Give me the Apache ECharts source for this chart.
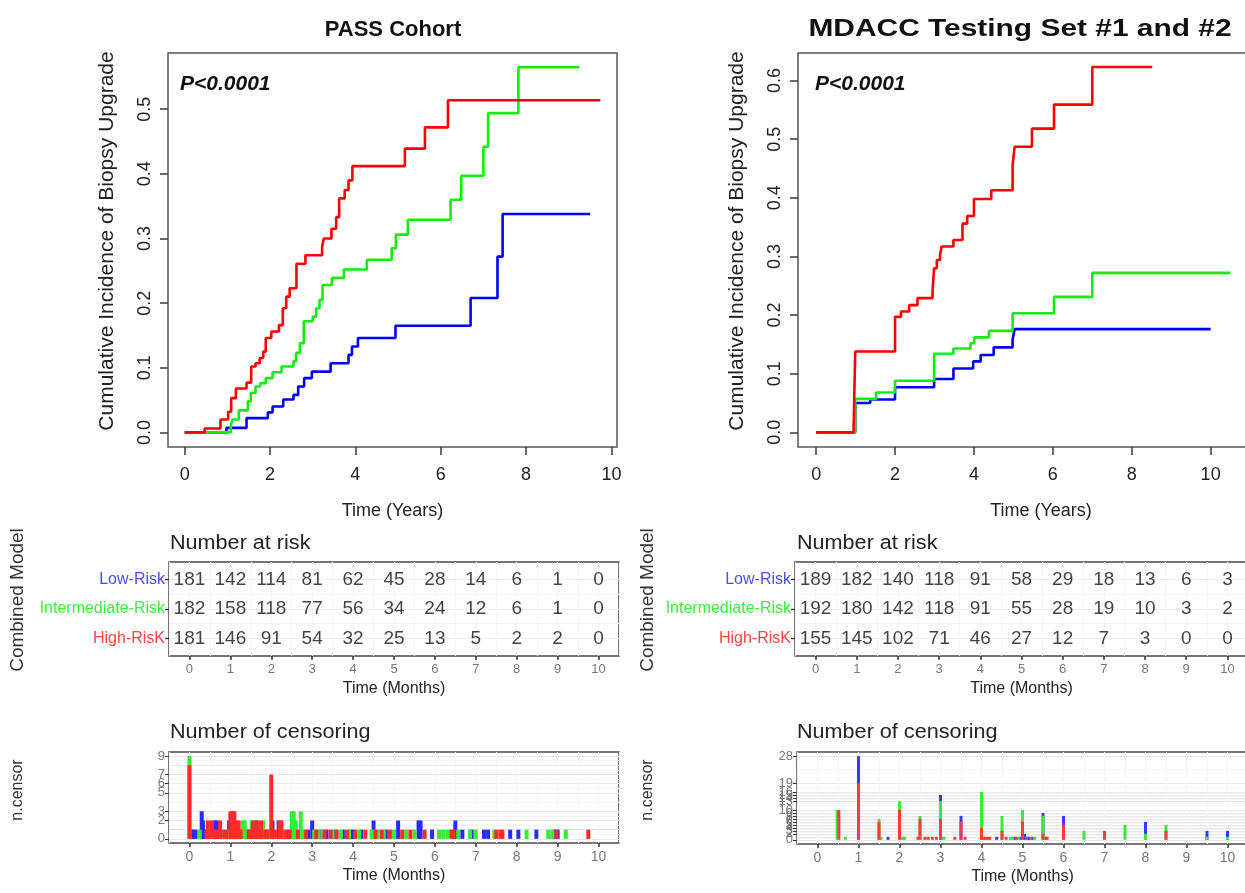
<!DOCTYPE html>
<html>
<head>
<meta charset="utf-8">
<title>Cumulative incidence of biopsy upgrade</title>
<script src="https://cdn.jsdelivr.net/npm/echarts@6/dist/echarts.min.js"></script>
<style>
  html, body { margin: 0; padding: 0; background: #fff; }
  #chart { width: 1245px; height: 893px; }
</style>
</head>
<body>
<div id="chart"></div>
<script>
// ---------- data ----------
const riskRows = ['High-RisK', 'Intermediate-Risk', 'Low-Risk'];   // bottom -> top in the table
const months = [0, 1, 2, 3, 4, 5, 6, 7, 8, 9, 10];
const yearTicks = [0, 2, 4, 6, 8, 10];

// PASS cohort: cumulative incidence steps (time, value)
const passLowT  = [0, 0.98, 1.45, 1.95, 2.06, 2.31, 2.55, 2.66, 2.80, 2.98, 3.42, 3.84, 3.92, 4.06, 4.94, 6.70, 7.33, 7.45, 9.50];
const passLowV  = [0, 0.007, 0.022, 0.031, 0.040, 0.051, 0.058, 0.071, 0.084, 0.094, 0.107, 0.120, 0.133, 0.146, 0.165, 0.208, 0.272, 0.338, 0.338];
const passIntT  = [0, 1.08, 1.12, 1.27, 1.48, 1.55, 1.66, 1.77, 1.90, 2.06, 2.27, 2.55, 2.61, 2.70, 2.79, 3.00, 3.08, 3.16, 3.23, 3.45, 3.73, 4.27, 4.85, 4.95, 5.23, 6.23, 6.48, 7.00, 7.11, 7.82, 9.25];
const passIntV  = [0, 0.009, 0.020, 0.034, 0.048, 0.061, 0.071, 0.076, 0.084, 0.093, 0.102, 0.110, 0.123, 0.138, 0.172, 0.179, 0.192, 0.205, 0.228, 0.239, 0.252, 0.267, 0.285, 0.306, 0.329, 0.360, 0.397, 0.442, 0.494, 0.565, 0.565];
const passHighT = [0, 0.47, 0.84, 1.02, 1.09, 1.20, 1.45, 1.56, 1.66, 1.76, 1.84, 1.90, 2.03, 2.21, 2.30, 2.38, 2.46, 2.62, 2.83, 3.22, 3.26, 3.44, 3.55, 3.62, 3.75, 3.84, 3.93, 5.16, 5.63, 6.17, 9.74];
const passHighV = [0, 0.006, 0.020, 0.032, 0.053, 0.068, 0.077, 0.102, 0.107, 0.115, 0.125, 0.146, 0.156, 0.166, 0.192, 0.210, 0.223, 0.261, 0.274, 0.287, 0.300, 0.315, 0.333, 0.362, 0.375, 0.390, 0.412, 0.439, 0.472, 0.514, 0.514];

// MDACC testing sets
const mdLowT  = [0, 0.99, 1.37, 2.00, 2.99, 3.48, 3.98, 4.17, 4.50, 4.98, 5.03, 10.0];
const mdLowV  = [0, 0.050, 0.056, 0.077, 0.091, 0.109, 0.121, 0.132, 0.145, 0.158, 0.176, 0.176];
const mdIntT  = [0, 0.99, 1.52, 2.00, 2.99, 3.48, 3.91, 4.01, 4.38, 4.98, 6.03, 7.00, 10.5];
const mdIntV  = [0, 0.057, 0.068, 0.088, 0.134, 0.143, 0.152, 0.162, 0.173, 0.203, 0.231, 0.272, 0.272];
const mdHighT = [0, 0.95, 0.99, 2.00, 2.15, 2.36, 2.57, 2.95, 2.99, 3.06, 3.14, 3.18, 3.48, 3.71, 3.83, 4.00, 4.44, 4.98, 5.03, 5.47, 6.03, 7.00, 8.52];
const mdHighV = [0, 0.007, 0.138, 0.197, 0.206, 0.217, 0.229, 0.240, 0.280, 0.294, 0.302, 0.317, 0.328, 0.356, 0.369, 0.398, 0.413, 0.455, 0.487, 0.518, 0.559, 0.623, 0.623];

// number at risk
const passRiskLow  = [181, 142, 114, 81, 62, 45, 28, 14, 6, 1, 0];
const passRiskInt  = [182, 158, 118, 77, 56, 34, 24, 12, 6, 1, 0];
const passRiskHigh = [181, 146, 91, 54, 32, 25, 13, 5, 2, 2, 0];
const mdRiskLow  = [189, 182, 140, 118, 91, 58, 29, 18, 13, 6, 3];
const mdRiskInt  = [192, 180, 142, 118, 91, 55, 28, 19, 10, 3, 2];
const mdRiskHigh = [155, 145, 102, 71, 46, 27, 12, 7, 3, 0, 0];

// number of censoring (time, count)
const passCensHighT = [0, 0.42, 0.45, 0.5, 0.55, 0.6, 0.7, 0.75, 0.85, 0.9, 1.0, 1.05, 1.1, 1.15, 1.2, 1.25, 1.45, 1.5, 1.55, 1.6, 1.65, 1.7, 1.75, 1.85, 1.9, 2.0, 2.1, 2.2, 2.25, 2.35, 2.45, 2.65, 2.85, 3.1, 3.3, 3.45, 3.6, 3.85, 4.05, 4.3, 4.55, 4.7, 4.9, 5.2, 5.4, 5.75, 6.4, 6.45, 7.5, 7.6, 7.65, 8.97, 9.75];
const passCensHighN = [8, 1, 2, 1, 2, 1, 1, 2, 1, 1, 3, 3, 3, 2, 2, 1, 1, 1, 2, 1, 2, 1, 2, 1, 1, 7, 1, 2, 2, 1, 1, 1, 1, 1, 1, 1, 1, 1, 1, 1, 1, 1, 1, 1, 1, 1, 1, 1, 1, 1, 1, 1, 1];
const passCensIntT = [0, 0.25, 0.8, 0.95, 1.3, 1.35, 1.4, 1.52, 1.58, 1.8, 1.95, 2.3, 2.5, 2.55, 2.6, 2.68, 2.72, 2.8, 3.05, 3.15, 3.25, 3.5, 3.7, 3.9, 4.15, 4.45, 4.52, 4.6, 4.75, 5.0, 5.3, 5.5, 6.1, 6.2, 6.3, 6.57, 6.86, 7.0, 7.45, 8.24, 8.77, 8.87, 9.2];
const passCensIntN = [1, 1, 1, 1, 2, 2, 1, 2, 2, 2, 1, 1, 3, 3, 2, 1, 3, 1, 1, 1, 1, 1, 1, 1, 1, 1, 1, 1, 1, 1, 1, 1, 1, 1, 1, 1, 1, 1, 1, 1, 1, 1, 1];
const passCensLowT = [0.05, 0.1, 0.15, 0.3, 0.33, 0.38, 0.62, 0.67, 0.72, 0.97, 1.27, 1.42, 1.47, 1.62, 1.72, 1.92, 2.03, 2.18, 2.4, 2.75, 2.9, 3.0, 3.2, 3.35, 3.55, 3.75, 3.95, 4.0, 4.2, 4.5, 4.8, 5.1, 5.6, 5.65, 5.93, 6.5, 6.67, 6.9, 7.2, 7.3, 7.84, 8.04, 8.48, 8.92, 9.0];
const passCensLowN = [1, 1, 1, 3, 2, 1, 2, 2, 1, 2, 1, 1, 1, 2, 1, 1, 2, 2, 1, 1, 1, 2, 1, 1, 1, 1, 1, 1, 1, 2, 1, 2, 2, 2, 1, 2, 1, 1, 1, 1, 1, 1, 1, 1, 1];
const passCensBreaks = [0, 1, 2, 3, 5, 6, 7, 8, 9];

const mdCensHighT = [0.52, 1.0, 1.5, 2.0, 2.45, 2.5, 2.62, 2.7, 2.8, 2.9, 3.0, 3.35, 3.5, 3.6, 4.0, 4.05, 4.1, 4.15, 4.2, 4.5, 4.6, 4.85, 5.0, 5.1, 5.2, 5.5, 5.6, 6.0, 7.0, 8.5];
const mdCensHighN = [10, 19, 6, 10, 1, 7, 1, 1, 1, 1, 7, 1, 6, 1, 4, 1, 1, 1, 1, 3, 1, 1, 6, 1, 1, 2, 1, 5, 3, 3];
const mdCensIntT = [0.48, 0.68, 1.5, 1.55, 2.0, 2.07, 2.12, 2.5, 3.0, 3.05, 3.09, 4.0, 4.5, 4.7, 4.75, 4.9, 5.0, 5.3, 5.5, 6.5, 7.5, 8.0, 8.5, 9.5, 10.0];
const mdCensIntN = [10, 1, 1, 1, 3, 1, 1, 1, 6, 1, 1, 12, 5, 1, 1, 1, 4, 1, 6, 3, 5, 2, 2, 1, 1];
const mdCensLowT = [1.0, 1.72, 2.1, 3.0, 3.5, 4.37, 4.8, 4.95, 5.05, 5.12, 5.15, 5.25, 5.5, 5.58, 6.0, 8.0, 9.5, 10.0];
const mdCensLowN = [9, 1, 1, 2, 2, 1, 1, 1, 2, 1, 1, 1, 1, 1, 3, 4, 2, 2];
const mdCensBreaks = [0, 1, 2, 3, 4, 5, 6, 7, 8, 9, 10, 13, 14, 15, 16, 19, 28];

// ---------- helpers ----------
const FONT = "'Liberation Sans', Arial, Helvetica, sans-serif";
const RED = '#ff0000', GREEN = '#10ee10', BLUE = '#0000ff';
const LBL = { high: '#ff4545', int: '#3df03d', low: '#4b4bff' };

const zip = (t, v) => t.map((x, i) => [x, v[i]]);

// stacked tops: group k stacks over groups 0..k-1 at identical times
function stackTops(ts, ns, k) {
  return ts[k].map(t => {
    let top = 0;
    for (let j = 0; j <= k; j++) {
      const i = ts[j].indexOf(t);
      if (i >= 0) top += ns[j][i];
    }
    return [t, top];
  });
}

function riskPoints(rows) {
  const out = [];
  rows.forEach((vals, r) => vals.forEach((n, i) => out.push([months[i], r, n])));
  return out;
}

function midpoints(b) {
  const m = [];
  for (let i = 1; i < b.length; i++) m.push((b[i - 1] + b[i]) / 2);
  return m;
}

const frame = '#555';
const hidden = () => ({ show: false, onZero: false });

function topX(g, min, max) {
  return {
    gridIndex: g, type: 'value', min, max,
    axisLine: hidden(),
    axisTick: { show: true, customValues: yearTicks, length: 8, lineStyle: { color: '#444', width: 1.6 } },
    axisLabel: { customValues: yearTicks, fontSize: 18, color: '#222', margin: 19 },
    splitLine: { show: false },
    name: 'Time (Years)', nameLocation: 'middle', nameGap: 55,
    nameTextStyle: { fontSize: 18, color: '#222' }
  };
}
function topY(g, min, max, ticks) {
  return {
    gridIndex: g, type: 'value', min, max,
    axisLine: hidden(),
    axisTick: { show: true, customValues: ticks, length: 8, lineStyle: { color: '#444', width: 1.6 } },
    axisLabel: { customValues: ticks, rotate: 90, fontSize: 18, color: '#222', margin: 14,
                 formatter: v => v.toFixed(1) },
    splitLine: { show: false }
  };
}
function monthX(g, labelSize) {
  return {
    gridIndex: g, type: 'value', min: -0.5, max: 10.5,
    axisLine: hidden(),
    axisTick: { show: true, customValues: months, length: 4, lineStyle: { color: '#333', width: 1.5 } },
    axisLabel: { customValues: months, fontSize: labelSize, color: '#777', margin: 7 },
    splitLine: { show: true, lineStyle: { color: '#ececec', width: 1 } },
    name: 'Time (Months)', nameLocation: 'middle', nameGap: 25,
    nameTextStyle: { fontSize: 16, color: '#222' }
  };
}
function minorX(g) {
  return {
    gridIndex: g, type: 'value', min: -0.5, max: 10.5, interval: 0.5, position: 'top',
    axisLine: hidden(), axisTick: { show: false }, axisLabel: { show: false },
    splitLine: { show: true, lineStyle: { color: '#f5f5f5', width: 1 } }
  };
}
function minorY(g, min, max, vals) {
  return {
    gridIndex: g, type: 'value', min, max, position: 'right',
    axisLine: hidden(), axisTick: { show: false, customValues: vals }, axisLabel: { show: false },
    splitLine: { show: true, lineStyle: { color: '#f5f5f5', width: 1 } }
  };
}
function riskY(g) {
  return {
    gridIndex: g, type: 'value', min: -0.6, max: 2.6,
    axisLine: hidden(),
    axisTick: { show: true, customValues: [0, 1, 2], length: 4, lineStyle: { color: '#333', width: 1.3 } },
    axisLabel: {
      customValues: [0, 1, 2], margin: 4,
      formatter: v => '{r' + v + '|' + riskRows[v] + '}',
      rich: {
        r0: { color: LBL.high, fontSize: 16, fontFamily: FONT },
        r1: { color: LBL.int, fontSize: 16, fontFamily: FONT },
        r2: { color: LBL.low, fontSize: 16, fontFamily: FONT }
      }
    },
    splitLine: { show: true, lineStyle: { color: '#ececec', width: 1 } }
  };
}
function censY(g, min, max, breaks) {
  return {
    gridIndex: g, type: 'value', min, max,
    axisLine: hidden(),
    axisTick: { show: true, customValues: breaks, length: 4, lineStyle: { color: '#333', width: 1 } },
    axisLabel: { customValues: breaks, fontSize: 13, color: '#777', margin: 4,
                 showMinLabel: true, showMaxLabel: true },
    splitLine: { show: true, lineStyle: { color: '#e8e8e8', width: 1 } }
  };
}

function box(l, t, w, h, color) {
  return { left: l, top: t, width: w, height: h, show: true, borderColor: color, borderWidth: 1.5,
           outerBoundsMode: 'none' };
}

function kmLine(name, xi, t, v, color) {
  return {
    name, type: 'line', xAxisIndex: xi, yAxisIndex: xi, data: zip(t, v),
    step: 'end', showSymbol: false, symbol: 'none',
    lineStyle: { color, width: 2.6 }, itemStyle: { color }, z: 3
  };
}
function censBars(xi, yi, data, color, w) {
  return {
    type: 'bar', xAxisIndex: xi, yAxisIndex: yi, data,
    barWidth: w, barGap: '-100%', itemStyle: { color }
  };
}
function riskText(xi, rows) {
  return {
    type: 'scatter', xAxisIndex: xi, yAxisIndex: xi, data: riskPoints(rows),
    symbolSize: 1, itemStyle: { color: 'rgba(0,0,0,0)' }, z: 5,
    label: { show: true, position: 'inside', formatter: p => p.value[2], fontSize: 19, color: '#111',
             fontFamily: FONT, textBorderWidth: 0 }
  };
}

const passTs = [passCensHighT, passCensIntT, passCensLowT];
const passNs = [passCensHighN, passCensIntN, passCensLowN];
const mdTs = [mdCensHighT, mdCensIntT, mdCensLowT];
const mdNs = [mdCensHighN, mdCensIntN, mdCensLowN];

function txt(x, y, text, font, fill, rot, align, sx) {
  const a = align || 'center';
  return {
    type: 'text', x, y, rotation: rot || 0, scaleX: sx || 1,
    style: { text, font, fill: fill || '#222', textAlign: a, textVerticalAlign: 'middle', align: a, verticalAlign: 'middle' }
  };
}

const chart = echarts.init(document.getElementById('chart'));

chart.setOption({
  animation: false,
  backgroundColor: '#fff',
  textStyle: { fontFamily: FONT },
  grid: [
    box(168, 53, 449, 394, frame),
    box(798, 53, 486, 394, frame),
    box(169, 562, 450, 94, '#4a4a4a'),
    box(795, 562, 453, 94, '#4a4a4a'),
    box(169, 752, 450, 91, '#4a4a4a'),
    box(797, 752, 451, 92, '#4a4a4a')
  ],
  xAxis: [
    topX(0, -0.39, 10.13),
    topX(1, -0.46, 11.86),
    monthX(2, 13),
    monthX(3, 13),
    monthX(4, 14),
    monthX(5, 14),
    minorX(2), minorX(3), minorX(4), minorX(5)
  ],
  yAxis: [
    topY(0, -0.0226, 0.587, [0, 0.1, 0.2, 0.3, 0.4, 0.5]),
    topY(1, -0.025, 0.647, [0, 0.1, 0.2, 0.3, 0.4, 0.5, 0.6]),
    riskY(2),
    riskY(3),
    censY(4, -0.45, 9.45, passCensBreaks),
    censY(5, -1.4, 29.4, mdCensBreaks),
    minorY(2, -0.6, 2.6, [0.5, 1.5]),
    minorY(3, -0.6, 2.6, [0.5, 1.5]),
    minorY(4, -0.45, 9.45, midpoints(passCensBreaks)),
    minorY(5, -1.4, 29.4, midpoints(mdCensBreaks))
  ],
  series: [
    kmLine('Low-Risk', 0, passLowT, passLowV, BLUE),
    kmLine('Intermediate-Risk', 0, passIntT, passIntV, GREEN),
    kmLine('High-RisK', 0, passHighT, passHighV, RED),
    kmLine('Low-Risk', 1, mdLowT, mdLowV, BLUE),
    kmLine('Intermediate-Risk', 1, mdIntT, mdIntV, GREEN),
    kmLine('High-RisK', 1, mdHighT, mdHighV, RED),

    riskText(2, [passRiskHigh, passRiskInt, passRiskLow]),
    riskText(3, [mdRiskHigh, mdRiskInt, mdRiskLow]),

    censBars(4, 4, stackTops(passTs, passNs, 2), '#2a2aff', 4),
    censBars(4, 4, stackTops(passTs, passNs, 1), '#33ee33', 4),
    censBars(4, 4, stackTops(passTs, passNs, 0), '#ff2a2a', 4),
    censBars(5, 5, stackTops(mdTs, mdNs, 2), '#3a3aff', 3),
    censBars(5, 5, stackTops(mdTs, mdNs, 1), '#3bea3b', 3),
    censBars(5, 5, stackTops(mdTs, mdNs, 0), '#ff3a3a', 3)
  ],
  graphic: [
    txt(393, 30, 'PASS Cohort', 'bold 22px ' + FONT, '#111'),
    txt(1020, 30, 'MDACC Testing Set #1 and #2', 'bold 23px ' + FONT, '#111', 0, 'center', 1.3),
    txt(180, 84, 'P<0.0001', 'italic bold 21px ' + FONT, '#111', 0, 'left'),
    txt(815, 84, 'P<0.0001', 'italic bold 21px ' + FONT, '#111', 0, 'left'),
    txt(107, 241, 'Cumulative Incidence of Biopsy Upgrade', '21px ' + FONT, '#222', Math.PI / 2),
    txt(737, 241, 'Cumulative Incidence of Biopsy Upgrade', '21px ' + FONT, '#222', Math.PI / 2),
    txt(170, 543, 'Number at risk', '20px ' + FONT, '#222', 0, 'left', 1.08),
    txt(797, 543, 'Number at risk', '20px ' + FONT, '#222', 0, 'left', 1.08),
    txt(170, 732, 'Number of censoring', '20px ' + FONT, '#222', 0, 'left', 1.08),
    txt(797, 732, 'Number of censoring', '20px ' + FONT, '#222', 0, 'left', 1.08),
    txt(18, 600, 'Combined Model', '19px ' + FONT, '#333', Math.PI / 2),
    txt(648, 600, 'Combined Model', '19px ' + FONT, '#333', Math.PI / 2),
    txt(18, 790, 'n.censor', '16px ' + FONT, '#333', Math.PI / 2),
    txt(648, 790, 'n.censor', '16px ' + FONT, '#333', Math.PI / 2)
  ]
});
</script>
</body>
</html>
